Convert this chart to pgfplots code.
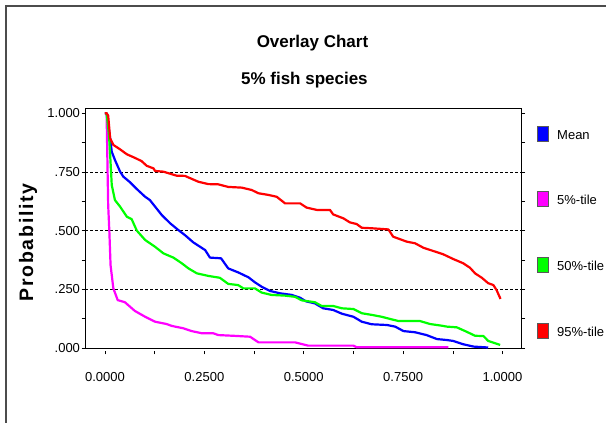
\documentclass[border=0pt]{standalone}
\usepackage{pgfplots}
\pgfplotsset{compat=1.18}
\usepackage{fontspec}
\setmainfont{Liberation Sans}

\definecolor{cBlue}{RGB}{0,0,255}
\definecolor{cMag}{RGB}{255,0,255}
\definecolor{cGreen}{RGB}{0,255,0}
\definecolor{cRed}{RGB}{255,0,0}

% overlay chart, 4 percentile curves
\begin{document}
\begin{tikzpicture}
\fill[white] (0pt,0pt) rectangle (606pt,423pt);
\useasboundingbox (0pt,0pt) rectangle (606pt,423pt);
\draw[line width=1.4pt, black!70] (6pt,0pt) -- (6pt,417pt) -- (606pt,417pt);

\node[font=\fontsize{17}{20}\selectfont\bfseries] at (312.5pt,379.7pt) {Overlay Chart};
\node[font=\fontsize{17}{20}\selectfont\bfseries] at (304.4pt,343pt) {5\% fish species};
\node[rotate=90, font=\fontsize{19.5}{22}\selectfont\bfseries\addfontfeatures{LetterSpace=9}] at (28pt,180.5pt) {Probability};

\begin{axis}[
    at={(85pt,74.7pt)}, anchor=south west,
    width=436.7pt, height=240pt, scale only axis,
    xmin=-0.0503, xmax=1.0483,
    ymin=-0.0013, ymax=1.0209,
    axis line style={line width=0.9pt},
    tick align=outside,
    major tick length=3.5pt, minor tick length=3.5pt,
    tick style={black, line width=0.6pt},
    xtick={0,0.25,0.5,0.75,1},
    xticklabels={0.0000,0.2500,0.5000,0.7500,1.0000},
    ytick={0,0.25,0.5,0.75,1},
    yticklabels={.000,.250,.500,.750,1.000},
    minor tick num=1,
    xtick pos=bottom, ytick pos=both,
    xtick style={yshift=-2.5pt},
    xticklabel style={yshift=-17pt},
    yticklabel style={xshift=2pt},
    ticklabel style={font=\fontsize{13}{15}\selectfont},
    extra y ticks={0.25,0.5,0.75},
    extra y tick labels={},
    extra y tick style={grid=major, major tick length=0pt},
    grid style={black, line width=0.8pt, dash pattern=on 3pt off 2pt},
    every axis plot/.append style={line width=2.2pt, line join=round},
]
\addplot[cBlue] coordinates {
(0,1)(0.004,1.0)(0.008,0.950)(0.013,0.893)(0.017,0.836)(0.025,0.801)(0.038,0.751)
(0.046,0.730)(0.063,0.706)(0.080,0.677)(0.101,0.644)(0.113,0.630)(0.126,0.602)
(0.143,0.566)(0.164,0.531)(0.184,0.503)(0.201,0.481)(0.222,0.450)(0.252,0.417)
(0.264,0.385)(0.292,0.382)(0.310,0.339)(0.335,0.322)(0.361,0.301)(0.377,0.280)
(0.394,0.261)(0.415,0.243)(0.440,0.233)(0.470,0.226)(0.491,0.214)(0.505,0.199)
(0.528,0.190)(0.549,0.169)(0.574,0.162)(0.596,0.146)(0.625,0.133)(0.646,0.112)
(0.671,0.101)(0.709,0.098)(0.730,0.091)(0.751,0.072)(0.780,0.067)(0.809,0.055)
(0.835,0.038)(0.860,0.034)(0.876,0.030)(0.901,0.016)(0.927,0.006)(0.964,0.002)
};
\addplot[cMag] coordinates {
(0,1)(0.004,1.0)(0.008,0.609)(0.011,0.495)(0.014,0.353)(0.021,0.254)(0.032,0.204)
(0.050,0.195)(0.075,0.158)(0.101,0.133)(0.126,0.112)(0.155,0.102)(0.168,0.094)
(0.197,0.084)(0.218,0.072)(0.243,0.063)(0.272,0.063)(0.285,0.055)(0.323,0.052)
(0.365,0.048)(0.386,0.024)(0.478,0.024)(0.511,0.010)(0.625,0.010)(0.633,0.003)
(0.864,0.003)
};
\addplot[cGreen] coordinates {
(0,1)(0.004,1.0)(0.010,0.907)(0.013,0.822)(0.017,0.694)(0.025,0.630)(0.038,0.602)
(0.055,0.559)(0.067,0.549)(0.080,0.500)(0.101,0.460)(0.126,0.431)(0.147,0.403)
(0.172,0.385)(0.193,0.361)(0.210,0.339)(0.231,0.318)(0.260,0.307)(0.289,0.299)
(0.310,0.273)(0.335,0.268)(0.348,0.254)(0.377,0.254)(0.394,0.236)(0.419,0.226)
(0.453,0.223)(0.478,0.218)(0.495,0.203)(0.528,0.195)(0.545,0.179)(0.574,0.179)
(0.596,0.169)(0.625,0.166)(0.646,0.148)(0.671,0.141)(0.696,0.133)(0.721,0.122)
(0.738,0.115)(0.792,0.115)(0.818,0.102)(0.847,0.095)(0.860,0.091)(0.885,0.088)
(0.910,0.069)(0.931,0.052)(0.952,0.051)(0.964,0.030)(0.994,0.013)
};
\addplot[cRed] coordinates {
(0,1)(0.004,1.000)(0.008,0.990)(0.013,0.893)(0.021,0.865)(0.038,0.846)(0.055,0.825)
(0.075,0.810)(0.092,0.796)(0.105,0.776)(0.122,0.765)(0.126,0.754)(0.147,0.751)
(0.180,0.734)(0.201,0.733)(0.235,0.708)(0.260,0.698)(0.285,0.697)(0.310,0.686)
(0.344,0.683)(0.369,0.673)(0.386,0.659)(0.411,0.652)(0.432,0.644)(0.453,0.616)
(0.491,0.616)(0.507,0.598)(0.533,0.588)(0.566,0.588)(0.574,0.569)(0.600,0.552)
(0.616,0.535)(0.633,0.528)(0.646,0.512)(0.671,0.510)(0.713,0.505)(0.725,0.474)
(0.759,0.453)(0.780,0.446)(0.801,0.427)(0.826,0.413)(0.851,0.399)(0.876,0.379)
(0.901,0.361)(0.918,0.342)(0.931,0.318)(0.948,0.299)(0.964,0.276)(0.977,0.268)
(0.985,0.247)(0.995,0.209)
};
\end{axis}

% legend
\foreach \c/\y/\t in {cBlue/289.3/Mean, cMag/223.8/5\%-tile, cGreen/158.5/50\%-tile, cRed/92.5/95\%-tile}{
  \filldraw[fill=\c, draw=black!65, line width=0.7pt] (537pt,\y pt-7.6pt) rectangle (548.5pt,\y pt+7.6pt);
  \node[anchor=base west, inner sep=0pt, font=\fontsize{13}{15}\selectfont] at (557pt,\y pt-5.7pt) {\t};
}
\end{tikzpicture}
\end{document}
